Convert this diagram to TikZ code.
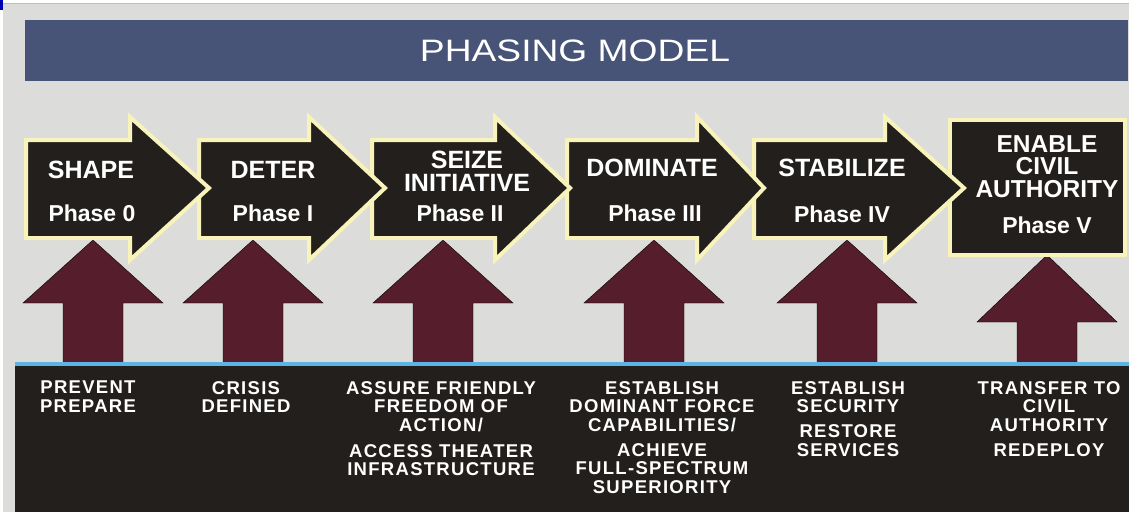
\documentclass[tikz,border=0pt]{standalone}
\usepackage{fontspec}
\setmainfont{Liberation Sans}
\definecolor{bggray}{HTML}{DCDCDA}
\definecolor{titleblue}{HTML}{475477}
\definecolor{boxblack}{HTML}{231F1C}
\definecolor{rimyellow}{HTML}{F7F3BB}
\definecolor{upmaroon}{HTML}{561D2C}
\definecolor{lineblue}{HTML}{5AB4E5}
\tikzset{
	phasearrow/.style = {fill=boxblack, draw=rimyellow, line width=4pt, line join=miter},
	uparrow/.style = {fill=upmaroon},
	titletext/.style = {text=white, inner sep=0pt, font=\fontsize{31}{31}\selectfont},
	phasename/.style = {text=white, inner sep=0pt, anchor=north, align=center, font=\bfseries\fontsize{25}{23}\selectfont},
	phasenum/.style = {text=white, inner sep=0pt, anchor=north, font=\bfseries\fontsize{23}{23}\selectfont},
	task/.style = {text=white, inner sep=0pt, anchor=north, align=center, font=\bfseries\fontsize{18.5}{18.7}\selectfont\addfontfeature{LetterSpace=7}},
}
\begin{document}
\begin{tikzpicture}[x=1pt, y=-1pt]
		\useasboundingbox (0,0) rectangle (1129,512);
		% 背景
		\fill [white] (0,0) rectangle (1129,512);
		\fill [bggray] (3,3) rectangle (1129,512);
		\draw [color=gray!40!lineblue!60, line width=1pt] (3,3) -- (1129,3);
		\fill [blue!70!black] (0,0) rectangle (3,10);
		% タイトル
		\fill [titleblue] (25,20) rectangle (1128,81);
		\node [titletext] (title) at (575,51) {\scalebox{1.2}[1]{PHASING MODEL}};
		% 上向き矢印
		\foreach \c in {93,253,443,654,847}
			\draw [uparrow] (\c,240) -- (\c+70,303) -- (\c+30,303) -- (\c+30,364)
			-- (\c-30,364) -- (\c-30,303) -- (\c-70,303) -- cycle;
		\draw [uparrow] (1047,255) -- (1117,322) -- (1077,322) -- (1077,364)
			-- (1017,364) -- (1017,322) -- (977,322) -- cycle;
		% 下の帯
		\fill [boxblack] (15,364) rectangle (1129,512);
		\draw [lineblue, line width=4pt] (15,364) -- (1129,364);
		% フェーズの矢印(右から順に)
		\draw [phasearrow] (950,120) rectangle (1125,255);
		\foreach \l/\b/\t in {754/885/964, 567/697/764, 372/495/570, 199/309/385, 26/130/209}
			\draw [phasearrow] (\l,140) -- (\b,140) -- (\b,117) -- (\t,188)
			-- (\b,260) -- (\b,238) -- (\l,238) -- cycle;
		% フェーズ名
		\node [phasename] (shape) at (91,161) {SHAPE};
		\node [phasenum] (phase0) at (92,205) {Phase 0};
		\node [phasename] (deter) at (273,161) {DETER};
		\node [phasenum] (phase1) at (273,205) {Phase I};
		\node [phasename] (seize) at (467,151) {SEIZE\\INITIATIVE};
		\node [phasenum] (phase2) at (460,205) {Phase II};
		\node [phasename] (dominate) at (652,159) {DOMINATE};
		\node [phasenum] (phase3) at (655,205) {Phase III};
		\node [phasename] (stabilize) at (842,159) {STABILIZE};
		\node [phasenum] (phase4) at (842,206) {Phase IV};
		\node [phasename, font=\bfseries\fontsize{24.5}{22.5}\selectfont] (enable) at (1047,135) {ENABLE\\CIVIL\\AUTHORITY};
		\node [phasenum] (phase5) at (1047,217) {Phase V};
		% 各フェーズの任務
		\node [task] (task0) at (88,381) {PREVENT\\PREPARE};
		\node [task] (task1) at (246,381) {CRISIS\\DEFINED};
		\node [task] (task2) at (441,381) {ASSURE FRIENDLY\\FREEDOM OF\\ACTION/\\[7pt]ACCESS THEATER\\INFRASTRUCTURE};
		\node [task] (task3) at (662,381) {ESTABLISH\\DOMINANT FORCE\\CAPABILITIES/\\[6pt]ACHIEVE\\FULL-SPECTRUM\\SUPERIORITY};
		\node [task] (task4) at (848,381) {ESTABLISH\\SECURITY\\[6pt]RESTORE\\SERVICES};
		\node [task] (task5) at (1049,381) {TRANSFER TO\\CIVIL\\AUTHORITY\\[6pt]REDEPLOY};
	\end{tikzpicture}
\end{document}
